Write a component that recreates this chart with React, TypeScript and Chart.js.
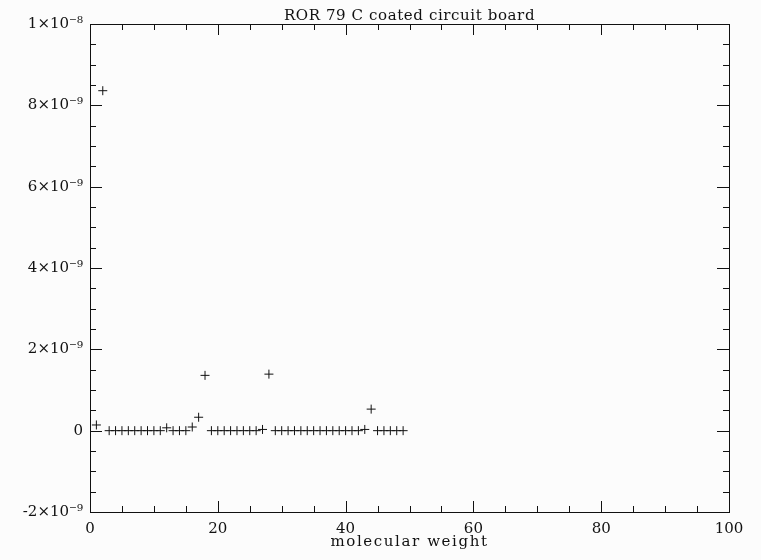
import React, { useEffect, useRef } from "react";
import { Chart, registerables } from "chart.js";

Chart.register(...registerables);

const chartTitle = "ROR 79 C coated circuit board";
const xAxisTitle = "molecular weight";
const molecularWeights = [
  1, 2, 3, 4, 5, 6, 7, 8, 9, 10, 11, 12, 13, 14, 15, 16, 17, 18, 19, 20, 21, 22, 23, 24, 25,
  26, 27, 28, 29, 30, 31, 32, 33, 34, 35, 36, 37, 38, 39, 40, 41, 42, 43, 44, 45, 46, 47, 48, 49,
];
// signal in units of 1e-9
const signalE9 = [
  0.14, 8.36, 0, 0, 0, 0, 0, 0, 0, 0, 0, 0.07, 0, 0, 0, 0.09, 0.33, 1.36, 0, 0, 0, 0, 0, 0, 0,
  0, 0.03, 1.39, 0, 0, 0, 0, 0, 0, 0, 0, 0, 0, 0, 0, 0, 0, 0.03, 0.53, 0, 0, 0, 0, 0,
];
const xMin = 0;
const xMax = 100;
const xMajorStep = 20;
const xMinorStep = 5;
const yMinE9 = -2;
const yMaxE9 = 10;
const yMajorStepE9 = 2;
const yMinorStepE9 = 0.5;

const supDigits: Record<string, string> = {
  "0": "⁰", "1": "¹", "2": "²", "3": "³", "4": "⁴", "5": "⁵", "6": "⁶", "7": "⁷", "8": "⁸", "9": "⁹", "-": "⁻",
};
function sup(s: string) {
  return s.split("").map((c) => supDigits[c] ?? c).join("");
}
function formatSci(v: number) {
  if (Math.abs(v) < 1e-15) return "0";
  const exp = Math.floor(Math.log10(Math.abs(v)) + 1e-9);
  const mant = Math.round(v / Math.pow(10, exp));
  return `${mant}×10${sup(String(exp))}`;
}

const FONT = "'DejaVu Serif', serif";

function drawSpaced(ctx: any, text: string, cx: number, baseline: number, font: string, spacing: number) {
  ctx.font = font;
  if ("letterSpacing" in ctx) {
    ctx.letterSpacing = `${spacing}px`;
  }
  const w = ctx.measureText(text).width;
  ctx.textAlign = "left";
  ctx.textBaseline = "alphabetic";
  ctx.fillText(text, cx - w / 2, baseline);
  if ("letterSpacing" in ctx) ctx.letterSpacing = "0px";
}

const framePlugin = {
  id: "frameTicks",
  afterDraw(chart: any) {
    const { ctx, chartArea } = chart;
    const { left, right, top, bottom } = chartArea;
    const xs = chart.scales.x;
    const ys = chart.scales.y;
    ctx.save();
    ctx.strokeStyle = "#111";
    ctx.lineWidth = 1;
    ctx.strokeRect(Math.round(left) + 0.5, Math.round(top) + 0.5, Math.round(right - left), Math.round(bottom - top));
    ctx.beginPath();
    for (let v = xMin; v <= xMax + 1e-9; v += xMinorStep) {
      const px = Math.round(xs.getPixelForValue(v)) + 0.5;
      const len = Math.abs(v % xMajorStep) < 1e-9 ? 11 : 6;
      ctx.moveTo(px, bottom);
      ctx.lineTo(px, bottom - len);
      ctx.moveTo(px, top);
      ctx.lineTo(px, top + len);
    }
    const nY = Math.round((yMaxE9 - yMinE9) / yMinorStepE9);
    for (let i = 0; i <= nY; i++) {
      const vE9 = yMinE9 + i * yMinorStepE9;
      const py = Math.round(ys.getPixelForValue(vE9 * 1e-9)) + 0.5;
      const major = Math.abs(vE9 / yMajorStepE9 - Math.round(vE9 / yMajorStepE9)) < 1e-6;
      const len = major ? 12 : 6;
      ctx.moveTo(left, py);
      ctx.lineTo(left + len, py);
      ctx.moveTo(right, py);
      ctx.lineTo(right - len, py);
    }
    ctx.stroke();
    ctx.fillStyle = "#111";
    drawSpaced(ctx, chartTitle, (left + right) / 2, top - 4, `15px ${FONT}`, 0.6);
    drawSpaced(ctx, xAxisTitle, (left + right) / 2, 546, `15px ${FONT}`, 1.6);
    ctx.restore();
  },
};

export default function App() {
  const canvasRef = useRef<HTMLCanvasElement | null>(null);
  useEffect(() => {
    if (!canvasRef.current) return;
    const points = molecularWeights.map((m, i) => ({ x: m, y: signalE9[i] * 1e-9 }));
    const chart = new Chart(canvasRef.current, {
      type: "scatter",
      data: {
        datasets: [
          {
            data: points,
            pointStyle: "cross",
            pointRadius: 4.5,
            pointBorderWidth: 1,
            borderColor: "#111",
            backgroundColor: "#111",
            showLine: false,
          },
        ],
      },
      options: {
        responsive: false,
        animation: false,
        layout: { padding: { top: 24, right: 32, left: 0, bottom: 0 } },
        plugins: { legend: { display: false }, tooltip: { enabled: false }, title: { display: false } },
        scales: {
          x: {
            type: "linear",
            min: xMin,
            max: xMax,
            border: { display: false },
            grid: { display: false, drawTicks: false },
            ticks: {
              stepSize: xMajorStep,
              color: "#111",
              padding: 8,
              font: { family: FONT, size: 15 },
              maxRotation: 0,
              callback: (v: any) => String(v),
            },
            title: { display: false },
            afterFit: (s: any) => {
              s.height = 48;
            },
          },
          y: {
            type: "linear",
            min: yMinE9 * 1e-9,
            max: yMaxE9 * 1e-9,
            border: { display: false },
            grid: { display: false, drawTicks: false },
            ticks: {
              stepSize: yMajorStepE9 * 1e-9,
              color: "#111",
              padding: 7,
              font: { family: FONT, size: 15 },
              callback: (v: any) => formatSci(Number(v)),
            },
            afterFit: (s: any) => {
              s.width = 90;
            },
          },
        },
      },
      plugins: [framePlugin],
    });
    return () => chart.destroy();
  }, []);
  return (
    <div style={{ position: "fixed", left: 0, top: 0, width: 761, height: 560, background: "#fcfcfc" }}>
      <canvas ref={canvasRef} width={761} height={560} />
    </div>
  );
}
